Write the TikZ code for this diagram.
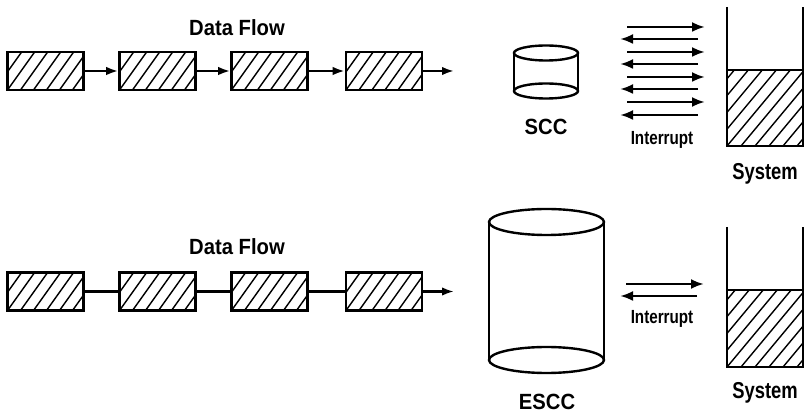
\documentclass[tikz,border=0pt]{standalone}
\usepackage{fontspec}
\setmainfont{Liberation Sans}[FakeStretch=0.92]
\newfontfamily\narrowfont{Liberation Sans}[FakeStretch=0.8]
\usetikzlibrary{arrows.meta}
\tikzset{
  biglbl/.style={font=\bfseries\fontsize{22}{22}\selectfont, inner sep=0pt},
  syslbl/.style={font=\narrowfont\bfseries\fontsize{23}{23}\selectfont, inner sep=0pt},
  smalllbl/.style={font=\narrowfont\bfseries\fontsize{19}{19}\selectfont, inner sep=0pt},
  hatchline/.style={line width=1.4pt},
  databox/.style={draw, line width=2.6pt, minimum width=76pt, minimum height=38pt, inner sep=0pt,
    path picture={\foreach \k in {-4,...,8}{\draw[hatchline] ([xshift=\k*13pt]path picture bounding box.south west) -- ++(30pt,42pt);}}},
  flowarrow/.style={line width=2.2pt, -{Latex[length=12pt,width=8.5pt]}},
  flowline/.style={line width=2.2pt},
  intarrow/.style={line width=2.8pt, -{Latex[length=13pt,width=10pt]}},
  outline/.style={line width=2.4pt},
}
\begin{document}
\begin{tikzpicture}[x=1pt,y=-1pt]
\useasboundingbox (0,0) rectangle (806,419);

% ---------- top row ----------
\node[biglbl] (df1) at (237,28) {Data Flow};
\node[databox] (a1) at (45.5,71) {};
\node[databox] (a2) at (157.5,71) {};
\node[databox] (a3) at (269.5,71) {};
\node[databox] (a4) at (384,71) {};
\coordinate (aend) at (454,71);
\draw[flowarrow] (a1) -- (a2);
\draw[flowarrow] (a2) -- (a3);
\draw[flowarrow] (a3) -- (a4);
\draw[flowarrow] (a4) -- (aend);

% SCC cylinder
\draw[outline] (514,53) -- (514,91);
\draw[outline] (578,53) -- (578,91);
\draw[outline] (546,53) ellipse [x radius=32, y radius=7.5];
\draw[outline] (546,91) ellipse [x radius=32, y radius=7.5];
\node[biglbl] (scc) at (546,127) {SCC};

% interrupt arrows
\foreach \y [count=\i] in {27,52,77,102}{
  \coordinate (rs\i) at (627,\y); \coordinate (re\i) at (705,\y);
  \draw[intarrow] (rs\i) -- (re\i);
}
\foreach \y [count=\i] in {39,64,89,115}{
  \coordinate (ls\i) at (698,\y); \coordinate (le\i) at (620,\y);
  \draw[intarrow] (ls\i) -- (le\i);
}
\node[smalllbl] (int1) at (662,140) {Interrupt};

% System container
\begin{scope}
  \clip (727,70) rectangle (803,146);
  \foreach \k in {-7,...,6}{\draw[hatchline] ([xshift=\k*14pt]727pt,-146pt) -- ++(80pt,96pt);}
\end{scope}
\draw[outline] (727,7) -- (727,146) -- (803,146) -- (803,7);
\draw[outline] (727,70) -- (803,70);
\node[syslbl] (sys1) at (765,174) {System};

% ---------- bottom row ----------
\node[biglbl] (df2) at (237,247) {Data Flow};
\node[databox] (b1) at (45.5,291.5) {};
\node[databox] (b2) at (157.5,291.5) {};
\node[databox] (b3) at (269.5,291.5) {};
\node[databox] (b4) at (384,291.5) {};
\coordinate (bend) at (454,291.5);
\draw[flowline] (b1) -- (b2);
\draw[flowline] (b2) -- (b3);
\draw[flowline] (b3) -- (b4);
\draw[flowarrow] (b4) -- (bend);

% ESCC cylinder
\draw[outline] (489,222) -- (489,360);
\draw[outline] (604,222) -- (604,360);
\draw[outline] (546.5,222) ellipse [x radius=57.5, y radius=13];
\draw[outline] (546.5,360) ellipse [x radius=57.5, y radius=13];
\node[biglbl] (escc) at (547,402) {ESCC};

\coordinate (rs5) at (626,284); \coordinate (re5) at (704,284);
\coordinate (ls5) at (697,296); \coordinate (le5) at (620,296);
\draw[intarrow] (rs5) -- (re5);
\draw[intarrow] (ls5) -- (le5);
\node[smalllbl] (int2) at (662,319) {Interrupt};

\begin{scope}
  \clip (727,290) rectangle (803,367);
  \foreach \k in {-7,...,6}{\draw[hatchline] ([xshift=\k*14pt]727pt,-367pt) -- ++(80pt,96pt);}
\end{scope}
\draw[outline] (727,227) -- (727,367) -- (803,367) -- (803,227);
\draw[outline] (727,290) -- (803,290);
\node[syslbl] (sys2) at (765,393) {System};
\end{tikzpicture}
\end{document}
